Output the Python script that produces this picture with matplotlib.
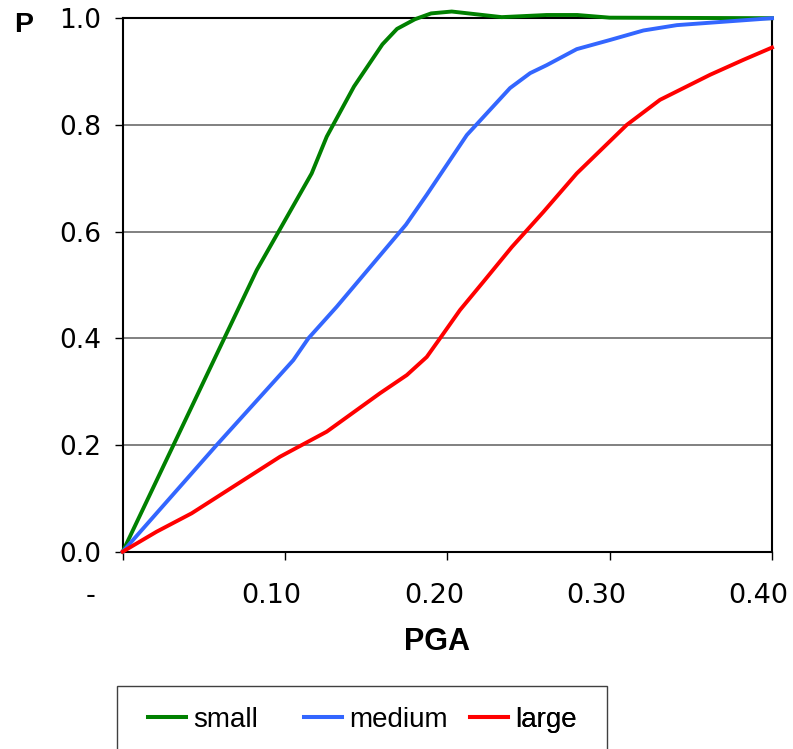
import matplotlib
matplotlib.use("Agg")
import matplotlib.pyplot as plt
import matplotlib.transforms as mtransforms
from matplotlib.lines import Line2D
from matplotlib.patches import Rectangle

# Fragility curves: probability of exceedance vs peak ground acceleration
small_pga = [0.0, 0.0826, 0.1164, 0.1257, 0.1425, 0.160, 0.169, 0.180, 0.190,
             0.2027, 0.2335, 0.2612, 0.280, 0.300, 0.400]
small_p = [0.0, 0.528, 0.709, 0.778, 0.872, 0.951, 0.980, 0.998, 1.009,
           1.0125, 1.002, 1.006, 1.006, 1.001, 1.0]

medium_pga = [0.0, 0.0579, 0.1051, 0.1144, 0.1318, 0.1745, 0.1873, 0.212,
              0.2386, 0.251, 0.2612, 0.2797, 0.300, 0.3208, 0.3414, 0.400]
medium_p = [0.0, 0.200, 0.359, 0.400, 0.459, 0.613, 0.669, 0.781,
            0.869, 0.897, 0.912, 0.942, 0.959, 0.977, 0.987, 1.0]

large_pga = [0.0, 0.0209, 0.0425, 0.0969, 0.1257, 0.1585, 0.175, 0.1873,
             0.1955, 0.2078, 0.2222, 0.2397, 0.2592, 0.2797, 0.3105, 0.331,
             0.3619, 0.3824, 0.400]
large_p = [0.0, 0.0375, 0.072, 0.178, 0.225, 0.297, 0.331, 0.365,
           0.400, 0.453, 0.506, 0.571, 0.637, 0.709, 0.800, 0.847,
           0.894, 0.922, 0.945]

series_names = ["small", "medium", "large"]
series_colors = ["#008000", "#3366FF", "#FF0000"]

x_ticks = [0.0, 0.1, 0.2, 0.3, 0.4]
x_tick_labels = ["-", "0.10", "0.20", "0.30", "0.40"]
y_ticks = [0.0, 0.2, 0.4, 0.6, 0.8, 1.0]
y_tick_labels = ["0.0", "0.2", "0.4", "0.6", "0.8", "1.0"]

W, H = 793, 749
fig = plt.figure(figsize=(W / 100, H / 100), dpi=100)
ax = fig.add_axes([122.7 / W, 1 - 551.7 / H, (772 - 122.7) / W, (551.7 - 18.2) / H])

lw = 2.8
data = [(small_pga, small_p), (medium_pga, medium_p), (large_pga, large_p)]
lines = []
for (xs, ys), name, col in zip(data, series_names, series_colors):
    ln, = ax.plot(xs, ys, color=col, lw=lw, label=name, clip_on=False, zorder=4)
    lines.append(ln)

ax.set_xlim(0, 0.4)
ax.set_ylim(0, 1.0)
ax.set_xticks(x_ticks)
ax.set_xticklabels(x_tick_labels, fontsize=19.5, family="DejaVu Sans")
ax.set_yticks(y_ticks)
ax.set_yticklabels(y_tick_labels, fontsize=19, family="DejaVu Sans")

ax.tick_params(axis="x", direction="out", length=5.8, width=1.0, pad=17, color="black")
ax.tick_params(axis="y", direction="out", length=5.8, width=1.0, pad=10, color="black")

ax.yaxis.grid(True, color="#808080", lw=1.4)
ax.xaxis.grid(False)
ax.set_axisbelow(True)
for sp in ax.spines.values():
    sp.set_color("black")
    sp.set_linewidth(1.5)
    sp.set_zorder(3)

# accounting-style number format: labels sit slightly left of their ticks
for i, lbl in enumerate(ax.get_xticklabels()):
    dx = -0.317 if i == 0 else -0.135
    lbl.set_transform(lbl.get_transform()
                      + mtransforms.ScaledTranslation(dx, 0, fig.dpi_scale_trans))

fig.text(24 / W, 1 - 25 / H, "P", fontsize=20.5, fontweight="bold",
         family="Liberation Sans", ha="center", va="center")
fig.text(437.5 / W, 1 - 642 / H, "PGA", fontsize=22, fontweight="bold",
         family="Liberation Sans", ha="center", va="center")

# legend entries laid out in fixed-width slots inside a boxed area
entry_left_px = [148, 304, 470]
for ln, name, xpx in zip(lines, series_names, entry_left_px):
    h = Line2D([], [], color=ln.get_color(), lw=2.9)
    leg = ax.legend([h], [name], loc="center left",
                    bbox_to_anchor=(xpx / W, 1 - 720 / H),
                    bbox_transform=fig.transFigure, frameon=False,
                    borderpad=0, borderaxespad=0, handlelength=1.36,
                    handletextpad=0.25,
                    prop={"family": "Liberation Sans", "size": 20})
    ax.add_artist(leg)

fig.patches.append(Rectangle((117 / W, -0.05), (607 - 117) / W, 0.05 + (1 - 686 / H),
                             transform=fig.transFigure, fill=False,
                             edgecolor="#404040", lw=1.0))

fig.savefig("out.png", dpi=100)
